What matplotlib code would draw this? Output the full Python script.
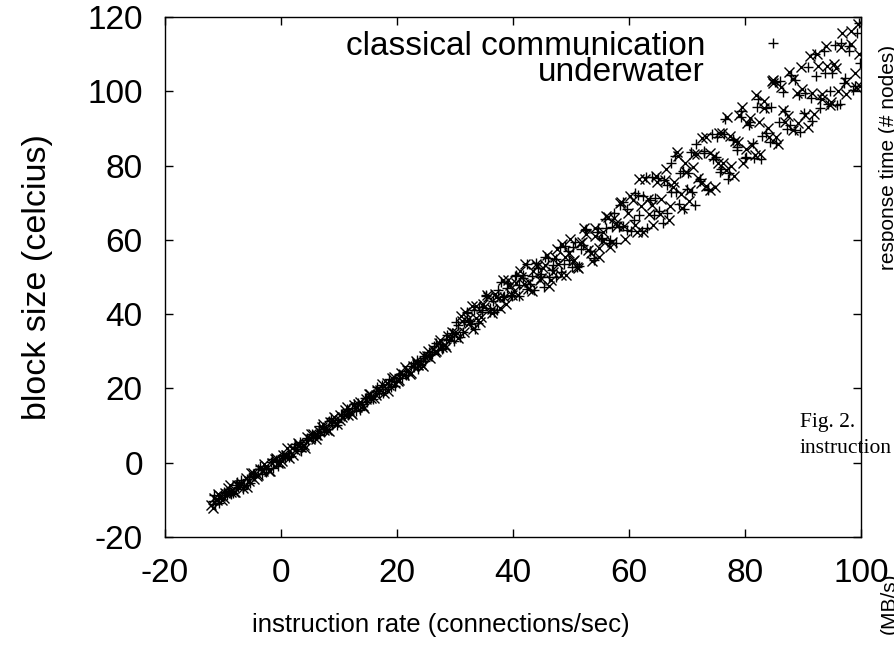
import matplotlib.pyplot as plt

plt.rcParams['font.family'] = ['Liberation Sans', 'DejaVu Sans']
plt.rcParams['axes.unicode_minus'] = False

# classical communication (+), first run
classical_x = [-11.8, -11.3, -10.9, -10.4, -9.8, -9.3, -8.9, -8.3, -7.8, -7.4, -6.9, -6.3, -5.9, -5.4,
               -4.8, -4.4, -3.9, -3.3, -2.9, -2.3, -1.8, -1.4, -0.8, -0.3, 0.2, 0.7, 1.2, 1.7, 2.2,
               2.8, 3.2, 3.7, 4.3, 4.7, 5.3, 5.8, 6.2, 6.8, 7.3, 7.7, 8.3, 8.8, 9.3, 9.8, 10.3, 10.8,
               11.4, 11.8, 12.3, 12.9, 13.3, 13.9, 14.4, 14.8, 15.4, 15.9, 16.3, 16.9, 17.4, 17.9,
               18.4, 18.9, 19.4, 19.9, 20.4, 20.9, 21.5, 21.9, 22.4, 23.0, 23.4, 24.0, 24.5, 24.9,
               25.5, 26.0, 26.4, 27.0, 27.5, 28.0, 28.5, 29.0, 29.5,
               30.2, 30.9, 31.5, 32.1, 32.8, 33.4, 34.1, 34.7, 35.3, 36.0, 36.6, 37.3, 37.9, 38.5,
               39.2, 39.8, 40.5, 41.1, 41.7, 42.4, 43.0, 43.7, 44.3, 44.9, 45.6, 46.2, 46.9, 47.5,
               48.1, 48.8, 49.4, 50.1, 50.7, 51.3, 52.0, 52.6, 53.3, 53.9, 54.5, 55.2, 55.8, 56.5,
               57.1, 57.7, 58.4, 59.0, 59.7,
               60.4, 61.1, 61.8, 62.4, 63.1, 63.9, 64.5, 65.2, 66.0, 66.6, 67.3, 68.1, 68.8, 69.4,
               70.2, 70.9, 71.5, 72.3, 73.0, 73.7, 74.4, 75.1, 75.8, 76.6, 77.2, 78.0, 78.7, 79.3,
               80.1, 80.8, 81.6, 82.2, 83.0, 83.7, 84.3, 85.1, 85.8, 86.6, 87.2, 88.0, 88.7, 89.3,
               90.1, 90.8, 91.5, 92.2, 92.9, 93.7, 94.3, 95.0, 95.8, 96.5, 97.1, 97.9, 98.6, 99.3,
               99.8]
classical_y = [-10.2, -11.0, -9.5, -9.9, -7.8, -8.6, -7.6, -8.2, -6.0, -6.6, -4.7, -5.9, -4.4, -5.4,
               -3.1, -3.5, -1.8, -3.1, -1.5, -1.7, 0.1, -1.3, 0.8, 0.5, 2.1, 1.2, 2.5, 1.8, 4.1,
               3.7, 5.5, 4.3, 6.1, 6.0, 7.7, 6.7, 8.1, 7.5, 9.6, 9.1, 11.2, 10.1, 11.4, 10.9, 13.0, 12.5,
               14.5, 13.1, 14.8, 13.9, 16.1, 15.9, 17.5, 16.3, 17.9, 17.2, 19.4, 18.7, 20.9, 19.9,
               21.3, 20.4, 22.1, 21.8, 23.9, 22.7, 24.6, 23.6, 26.0, 25.7, 27.7, 26.6, 28.2, 27.4,
               29.9, 29.3, 31.3, 30.3, 32.0, 30.9, 33.4, 33.0, 34.8,
               37.8, 33.8, 37.9, 40.5, 37.4, 36.0, 41.8, 40.7, 44.8, 40.5, 43.6, 41.2, 48.6, 44.8,
               48.3, 44.8, 50.5, 45.0, 49.7, 53.4, 48.1, 46.4, 52.5, 50.9, 55.3, 49.9, 53.3, 49.9,
               58.2, 53.4, 57.1, 52.6, 59.3, 52.9, 58.6, 63.0, 56.9, 54.7, 62.1, 60.4, 65.7, 59.2,
               63.4, 59.2, 69.3, 63.6, 68.3,
               62.4, 72.7, 66.6, 71.7, 63.3, 77.0, 71.3, 67.7, 76.2, 67.3, 80.8, 73.0, 78.0, 68.4,
               78.0, 72.8, 85.7, 75.8, 83.9, 73.3, 81.7, 87.7, 79.1, 92.5, 78.0, 87.2, 84.2, 93.2,
               82.3, 91.6, 82.1, 98.0, 88.0, 95.6, 86.3, 102.6, 91.8, 99.9, 89.8, 104.3, 89.5, 99.0,
               94.1, 106.6, 91.9, 104.0, 98.0, 110.8, 96.6, 104.8, 96.2, 112.9, 102.1, 112.1, 100.4, 115.8,
               107.6]

# classical communication (+), second run
classical_x2 = [-11.5, -10.7, -9.6, -8.6, -7.5, -6.6, -5.6, -4.6, -3.6, -2.6, -1.6, -0.6, 0.4, 1.4,
                2.5, 3.5, 4.5, 5.5, 6.5, 7.5, 8.6, 9.6, 10.6, 11.6, 12.6, 13.6, 14.6, 15.6, 16.6,
                17.6, 18.6, 19.6, 20.6, 21.6, 22.7, 23.7, 24.7, 25.7, 26.7, 27.7, 28.7, 29.8,
                30.6, 31.3, 32.0, 32.6, 33.3, 34.0, 34.6, 35.4, 36.1, 36.8, 37.5, 38.2, 38.9, 39.6,
                40.3, 41.0, 41.8, 42.5, 43.2, 43.9, 44.6, 45.3, 46.0, 46.7, 47.4, 48.2, 48.9, 49.6,
                50.3, 51.0, 51.7, 52.4, 53.2, 53.9, 54.6, 55.3, 56.0, 56.8, 57.5, 58.2, 58.9, 59.6,
                60.8, 61.5, 62.2, 62.9, 63.6, 64.3, 65.0, 65.8, 66.5, 67.2, 67.9, 68.6, 69.3, 70.0,
                70.7, 71.4, 72.2, 72.9, 73.6, 74.3, 75.0, 75.7, 76.4, 77.1, 77.9, 78.6, 79.3, 80.0,
                80.7, 81.4, 82.1, 82.8, 83.6, 84.5, 85.3, 86.1, 86.9, 87.8, 88.6, 89.5, 90.4, 91.3,
                92.1, 93.0, 93.8, 94.6, 95.5, 96.3, 97.2, 98.0, 98.9, 99.7]
classical_y2 = [-8.8, -10.9, -8.1, -8.4, -5.2, -7.1, -3.8, -3.7, -0.9, -2.6, 1.0, -1.0, 1.8, 1.6,
                5.0, 3.2, 6.7, 6.9, 9.8, 8.2, 12.0, 10.2, 13.0, 12.8, 15.9, 14.2, 17.5, 17.7, 20.5,
                18.9, 22.5, 20.7, 23.6, 23.5, 26.9, 25.3, 28.8, 29.1, 32.1, 30.6, 34.4, 32.9,
                37.1, 35.3, 40.4, 38.2, 41.1, 37.6, 41.2, 45.1, 41.6, 40.7, 46.4, 44.7, 47.1, 45.2,
                50.2, 47.9, 50.5, 46.8, 50.3, 53.7, 50.0, 47.2, 55.1, 52.0, 54.8, 51.4, 58.4, 54.6,
                58.2, 52.6, 57.6, 62.6, 57.1, 55.1, 63.1, 60.2, 63.2, 59.9, 67.2, 63.5, 70.3, 62.6,
                65.4, 72.2, 62.4, 77.0, 70.7, 66.7, 76.7, 64.6, 74.8, 72.8, 82.6, 69.7, 78.6, 73.6,
                83.6, 69.5, 76.5, 83.5, 73.8, 88.4, 82.3, 78.4, 88.4, 76.4, 86.8, 85.0, 94.8, 82.0,
                91.0, 86.0, 95.9, 81.8, 88.7, 95.8, 86.1, 102.8, 94.7, 90.9, 103.0, 89.1, 99.6, 98.1,
                110.1, 95.6, 104.9, 100.1, 112.4, 96.6, 103.7, 110.9, 101.5, 118.3]

# underwater (x), first run
underwater_x = [-12.0, -11.5, -11.1, -10.6, -10.1, -9.6, -9.1, -8.6, -8.1, -7.6, -7.1, -6.6, -6.1, -5.6,
                -5.1, -4.6, -4.1, -3.6, -3.1, -2.6, -2.1, -1.6, -1.1, -0.6, -0.1, 0.4, 0.9, 1.4, 1.9,
                2.4, 3.0, 3.5, 4.0, 4.5, 5.0, 5.5, 6.0, 6.5, 7.0, 7.5, 8.0, 8.5, 9.0, 9.6, 10.1, 10.6,
                11.1, 11.6, 12.1, 12.6, 13.1, 13.6, 14.1, 14.6, 15.1, 15.6, 16.1, 16.6, 17.1, 17.7,
                18.2, 18.7, 19.2, 19.7, 20.2, 20.7, 21.2, 21.7, 22.2, 22.7, 23.2, 23.7, 24.2, 24.7,
                25.2, 25.7, 26.2, 26.7, 27.2, 27.8, 28.3, 28.8, 29.3, 29.8,
                30.5, 31.2, 31.8, 32.4, 33.1, 33.7, 34.4, 35.0, 35.6, 36.3, 36.9, 37.6, 38.2, 38.8,
                39.5, 40.1, 40.8, 41.4, 42.0, 42.7, 43.3, 44.0, 44.6, 45.2, 45.9, 46.5, 47.2, 47.8,
                48.4, 49.1, 49.7, 50.4, 51.0, 51.6, 52.3, 52.9, 53.6, 54.2, 54.8, 55.5, 56.1, 56.8,
                57.4, 58.0, 58.7, 59.3, 59.9,
                60.7, 61.4, 62.1, 62.8, 63.5, 64.2, 64.9, 65.6, 66.3, 67.0, 67.7, 68.4, 69.1, 69.8,
                70.5, 71.2, 71.9, 72.6, 73.3, 74.0, 74.8, 75.5, 76.2, 76.9, 77.6, 78.3, 79.0, 79.7,
                80.4, 81.2, 81.9, 82.6, 83.3, 84.0, 84.7, 85.4, 86.2, 86.9, 87.6, 88.3, 89.0, 89.7,
                90.4, 91.2, 91.9, 92.6, 93.3, 94.0, 94.7, 95.4, 96.1, 96.8, 97.5, 98.2, 98.9, 99.5,
                99.9]
underwater_y = [-11.5, -9.4, -10.1, -8.9, -10.0, -8.1, -6.9, -7.9, -7.8, -5.9, -5.9, -6.7, -4.2, -4.8,
                -2.9, -4.3, -3.7, -1.6, -2.2, -1.0, -2.1, -0.2, 1.0, -0.1, 0.0, 2.0, 2.1, 1.3, 3.9,
                3.3, 5.4, 4.1, 4.7, 6.9, 6.3, 7.6, 6.5, 8.5, 9.7, 8.8, 8.9, 11.0, 11.0, 10.4, 12.9, 12.3,
                14.3, 12.9, 13.5, 15.6, 15.1, 16.3, 15.2, 17.1, 18.4, 17.4, 17.5, 19.5, 19.6, 18.9,
                21.4, 20.8, 22.8, 21.4, 22.0, 24.2, 23.7, 25.0, 24.0, 26.0, 27.3, 26.4, 26.6, 28.7,
                28.8, 28.1, 30.7, 30.2, 32.2, 31.1, 31.8, 34.0, 33.5, 34.8,
                33.7, 38.1, 40.7, 37.6, 36.0, 42.2, 39.1, 42.0, 45.2, 40.2, 45.4, 44.4, 49.1, 42.6,
                47.8, 46.2, 45.1, 50.1, 53.4, 48.7, 46.1, 53.5, 49.1, 52.3, 55.9, 49.1, 55.3, 53.4,
                58.9, 50.5, 56.4, 54.2, 52.8, 59.1, 63.1, 57.3, 54.4, 63.3, 57.9, 62.1, 66.5, 58.1,
                65.8, 63.6, 70.1, 60.3, 67.3,
                70.8, 62.0, 69.2, 76.4, 66.9, 64.0, 75.6, 71.0, 79.0, 69.1, 75.7, 82.5, 68.5, 78.4,
                73.3, 83.2, 76.6, 87.3, 74.4, 83.4, 74.2, 88.7, 80.8, 93.0, 79.8, 86.5, 93.7, 80.8,
                91.5, 85.6, 99.1, 83.2, 95.5, 90.1, 102.7, 87.7, 101.2, 91.6, 105.2, 89.5, 99.5, 106.6,
                93.5, 109.6, 93.8, 106.9, 99.2, 112.2, 96.4, 107.4, 100.0, 115.8, 99.2, 112.8, 105.0, 118.1,
                101.4]

# underwater (x), second run
underwater_x2 = [-11.8, -10.9, -9.9, -8.8, -7.9, -6.9, -5.9, -4.9, -3.9, -2.9, -1.9, -0.9, 0.1, 1.1,
                 2.1, 3.1, 4.2, 5.2, 6.2, 7.2, 8.2, 9.2, 10.2, 11.3, 12.3, 13.3, 14.3, 15.3, 16.3,
                 17.4, 18.4, 19.4, 20.4, 21.4, 22.4, 23.4, 24.4, 25.4, 26.5, 27.5, 28.5, 29.5,
                 30.3, 31.0, 31.6, 32.3, 33.0, 33.6, 34.3, 34.9, 35.7, 36.4, 37.0, 37.8, 38.5, 39.2,
                 39.9, 40.6, 41.2, 41.9, 42.6, 43.4, 44.1, 44.8, 45.5, 46.2, 46.9, 47.6, 48.3, 49.0,
                 49.8, 50.5, 51.2, 51.9, 52.6, 53.4, 54.1, 54.8, 55.6, 56.3, 57.0, 57.8, 58.5, 59.2,
                 60.2, 61.0, 61.7, 62.5, 63.2, 64.0, 64.7, 65.4, 66.2, 66.9, 67.6, 68.3, 69.0, 69.7,
                 70.4, 71.1, 71.8, 72.5, 73.2, 73.9, 74.6, 75.3, 76.0, 76.7, 77.4, 78.1, 78.8, 79.5,
                 80.2, 80.9, 81.7, 82.4, 83.2, 84.1, 84.9, 85.7, 86.5, 87.4, 88.2, 89.1, 89.9, 90.8,
                 91.6, 92.4, 93.2, 94.1, 94.9, 95.7, 96.6, 97.4, 98.3, 99.1, 99.6]
underwater_y2 = [-12.1, -8.5, -9.4, -6.0, -8.0, -5.5, -6.5, -2.8, -3.2, -0.3, -2.3, 1.4, 0.5, 3.9,
                 2.1, 4.7, 3.9, 7.7, 7.4, 10.4, 8.5, 12.4, 11.6, 15.1, 13.2, 15.8, 14.8, 18.6, 18.2,
                 21.3, 19.3, 23.2, 22.4, 25.9, 24.2, 26.9, 26.1, 30.0, 29.9, 33.0, 31.2, 35.2,
                 34.8, 39.4, 35.1, 38.8, 42.3, 38.9, 37.8, 42.7, 44.5, 41.5, 44.7, 41.6, 44.6, 49.2,
                 45.1, 48.5, 51.7, 48.1, 46.7, 51.5, 53.0, 49.6, 53.1, 47.5, 51.3, 57.6, 50.6, 55.5,
                 60.1, 54.6, 52.4, 59.5, 61.5, 56.5, 61.0, 55.5, 59.7, 66.1, 59.4, 64.5, 69.9, 63.8,
                 71.8, 64.0, 76.4, 62.1, 71.0, 69.3, 77.2, 67.0, 76.2, 65.4, 74.3, 83.6, 72.3, 80.6,
                 70.5, 79.6, 83.1, 75.3, 87.8, 73.5, 82.6, 80.8, 88.8, 78.8, 87.9, 77.2, 86.3, 95.7,
                 84.4, 92.8, 82.8, 91.8, 97.3, 87.6, 102.2, 85.9, 95.0, 93.4, 103.4, 91.5, 100.7, 90.3,
                 99.5, 110.1, 98.0, 106.8, 97.0, 106.2, 112.0, 102.4, 116.3, 101.1, 110.0]

ticks = [-20, 0, 20, 40, 60, 80, 100, 120]

W, H = 895, 645
fig = plt.figure(figsize=(W / 100, H / 100), dpi=100)
ax = fig.add_axes([165 / W, 1 - 537 / H, (861 - 165) / W, (537 - 17) / H])

mk = dict(linestyle='none', ms=7.5, mew=1.0, color='black')
ax.plot(classical_x + classical_x2, classical_y + classical_y2, marker='+', **mk)
ax.plot(underwater_x + underwater_x2, underwater_y + underwater_y2, marker='x', **mk)

ax.set_xlim(-20, 100)
ax.set_ylim(-20, 120)
ax.set_xticks(ticks[:-1])
ax.set_yticks(ticks)
ax.tick_params(direction='in', length=6, width=1, top=True, right=True, labelsize=24)
ax.tick_params(axis='x', pad=15)
ax.tick_params(axis='y', pad=16)
for s in ax.spines.values():
    s.set_linewidth(1)

# axis titles (x title sits left of centre)
fig.text(441 / W, 1 - 625 / H, 'instruction rate (connections/sec)', fontsize=18.5,
         ha='center', va='center')
fig.text(38 / W, 1 - 277 / H, 'block size (celcius)', fontsize=24.5, rotation=90,
         ha='center', va='center')

# key, text on the left of the sample marker
fig.text(705 / W, 1 - 55 / H, 'classical communication', fontsize=24, ha='right', va='baseline')
fig.text(705 / W, 1 - 81 / H, 'underwater', fontsize=24, ha='right', va='baseline')
ax.plot([773 / W], [1 - 43 / H], transform=fig.transFigure, marker='+', clip_on=False, **mk)
ax.plot([773 / W], [1 - 80 / H], transform=fig.transFigure, marker='x', clip_on=False, **mk)

# bits of the neighbouring figure on the page
fig.text(800 / W, 1 - 427 / H, 'Fig. 2.', fontsize=15.5, family='Liberation Serif', va='baseline')
fig.text(800 / W, 1 - 453 / H, 'instruction', fontsize=15.5, family='Liberation Serif',
         va='baseline')
fig.text(889 / W, 1 - 45 / H, 'response time (# nodes)', fontsize=15, rotation=90,
         ha='center', va='top')
fig.text(889 / W, 1 - 572 / H, '(MB/s)', fontsize=15, rotation=90, ha='center', va='top')

fig.savefig('out.png', dpi=100)
